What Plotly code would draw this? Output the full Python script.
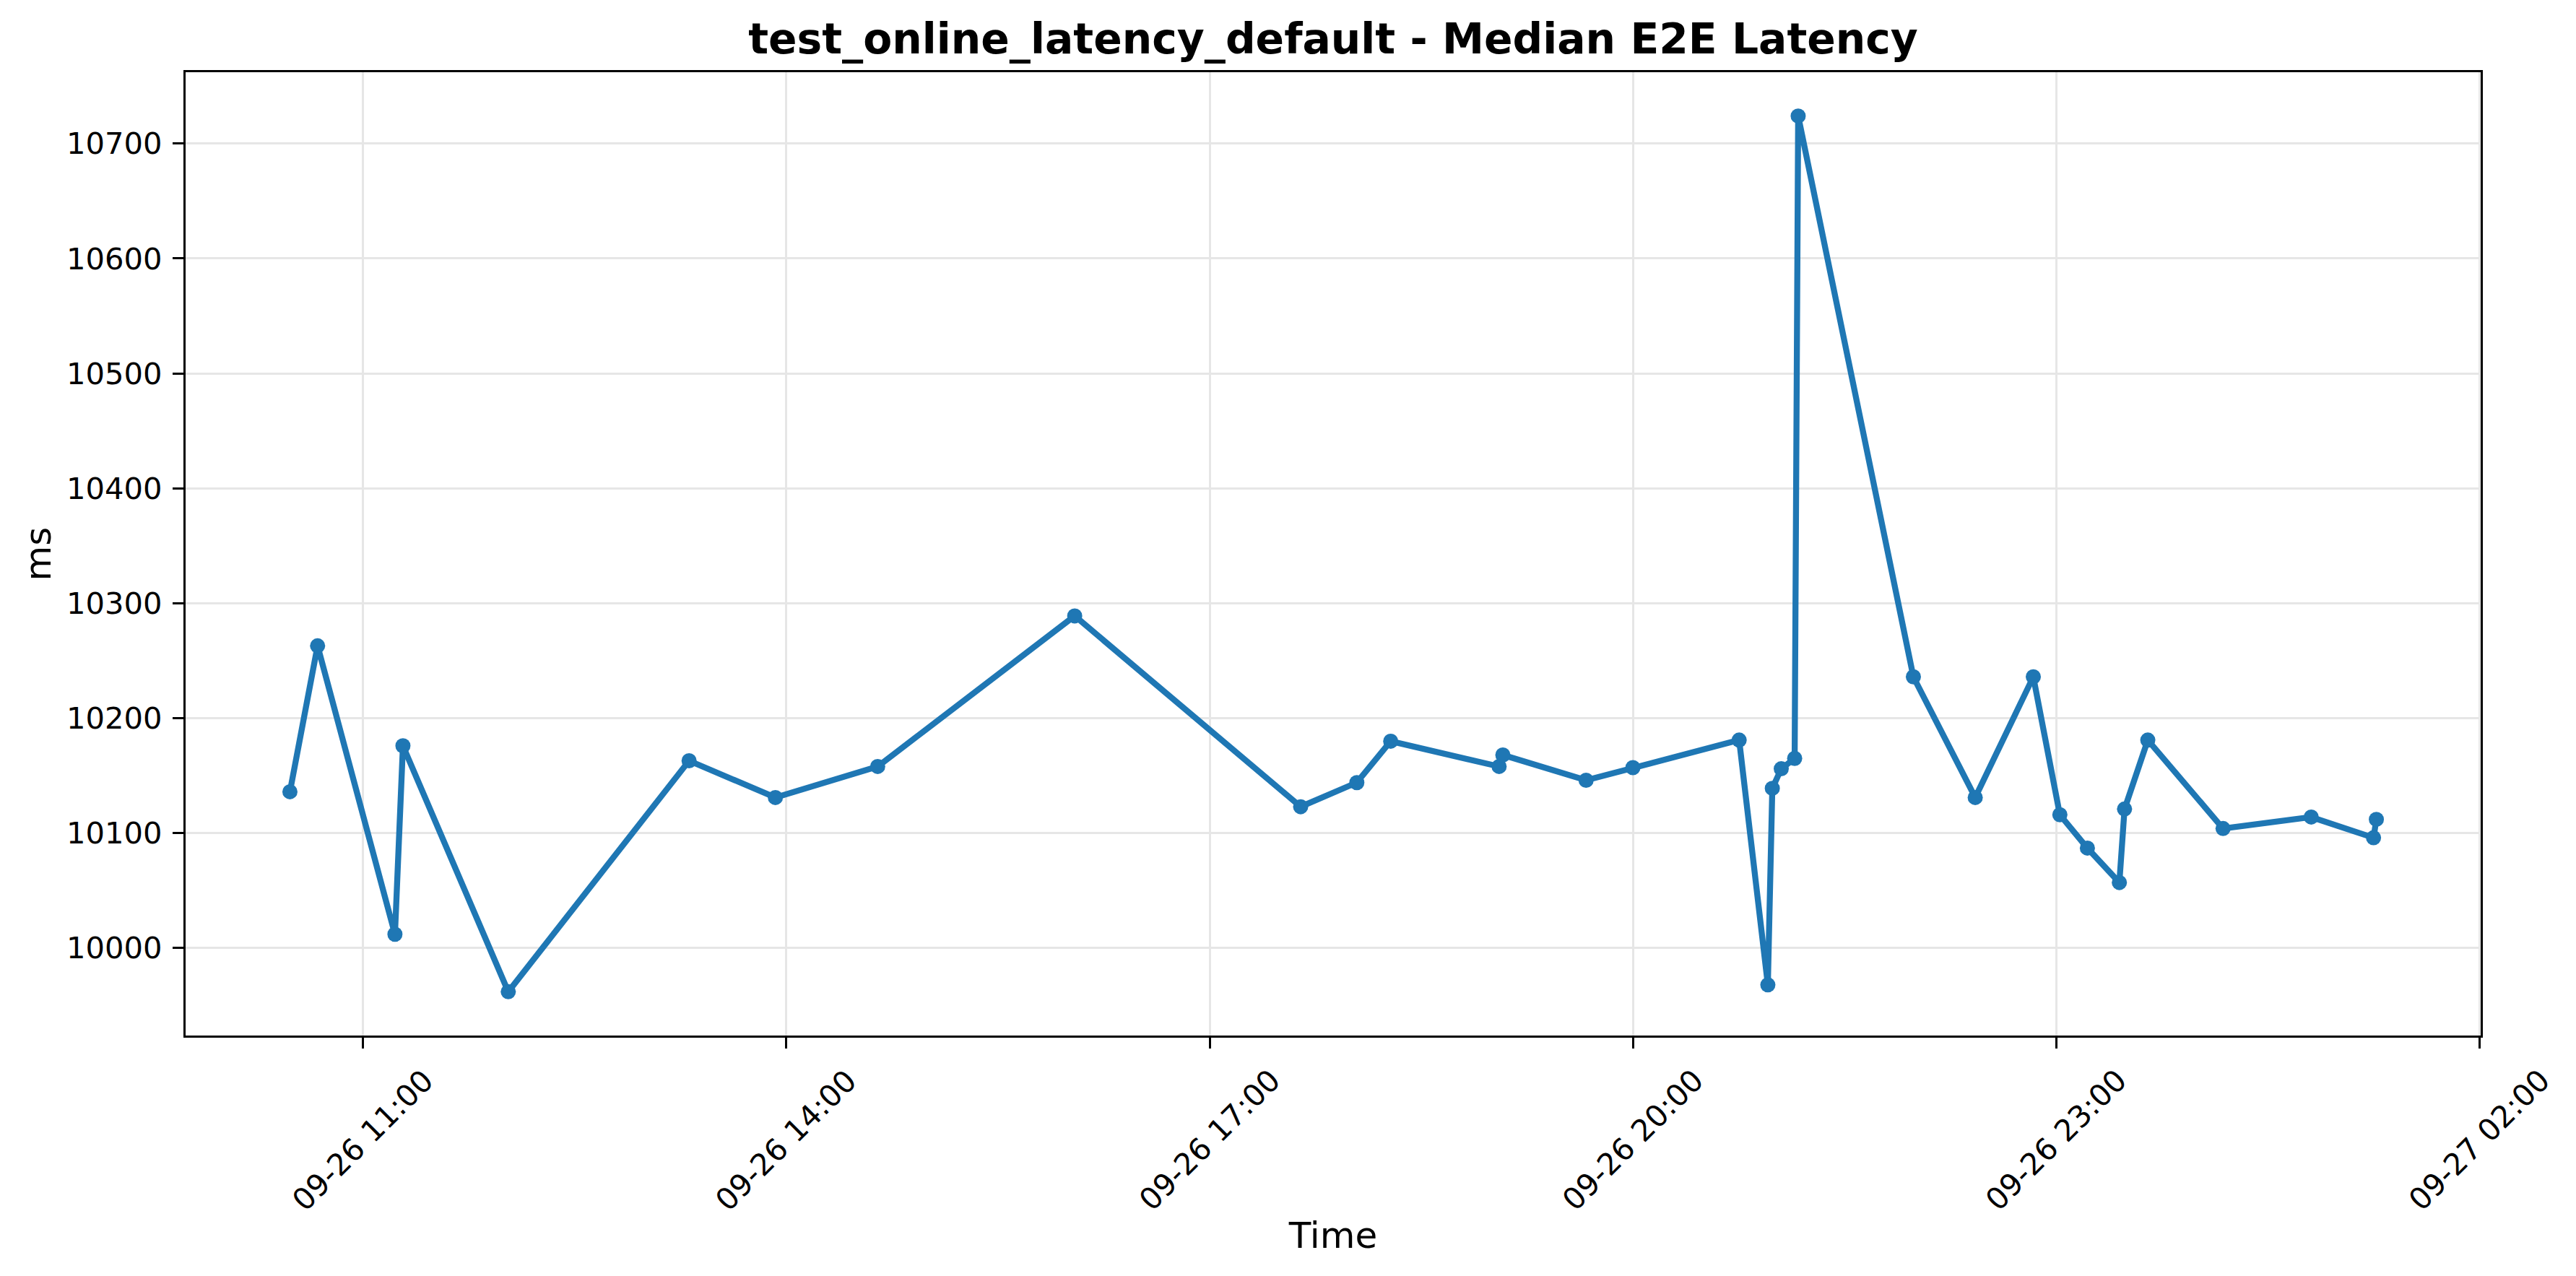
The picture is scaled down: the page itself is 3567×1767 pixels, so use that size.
import plotly.graph_objects as go
import pandas as pd

# ---- data ----
times = [
    "2025-09-26 10:28:50", "2025-09-26 10:40:36", "2025-09-26 11:13:30", "2025-09-26 11:16:54",
    "2025-09-26 12:01:42", "2025-09-26 13:18:36", "2025-09-26 13:55:18", "2025-09-26 14:38:48",
    "2025-09-26 16:02:36", "2025-09-26 17:38:42", "2025-09-26 18:02:36", "2025-09-26 18:17:00",
    "2025-09-26 19:03:06", "2025-09-26 19:04:42", "2025-09-26 19:40:06", "2025-09-26 20:00:00",
    "2025-09-26 20:45:12", "2025-09-26 20:57:24", "2025-09-26 20:59:18", "2025-09-26 21:03:06",
    "2025-09-26 21:08:48", "2025-09-26 21:10:18", "2025-09-26 21:59:18", "2025-09-26 22:25:36",
    "2025-09-26 22:50:18", "2025-09-26 23:01:36", "2025-09-26 23:13:18", "2025-09-26 23:26:54",
    "2025-09-26 23:29:06", "2025-09-26 23:39:00", "2025-09-27 00:11:00", "2025-09-27 00:48:30",
    "2025-09-27 01:15:00", "2025-09-27 01:16:12",
]
latency_ms = [
    10136, 10263, 10012, 10176,
    9962, 10163, 10131, 10158,
    10289, 10123, 10144, 10180,
    10158, 10168, 10146, 10157,
    10181, 9968, 10139, 10156,
    10165, 10724, 10236, 10131,
    10236, 10116, 10087, 10057,
    10121, 10181, 10104, 10114,
    10096, 10112,
]
x_tick_times = [
    "2025-09-26 11:00", "2025-09-26 14:00", "2025-09-26 17:00",
    "2025-09-26 20:00", "2025-09-26 23:00", "2025-09-27 02:00",
]
x_tick_labels = ["09-26 11:00", "09-26 14:00", "09-26 17:00",
                 "09-26 20:00", "09-26 23:00", "09-27 02:00"]
y_tick_values = [10000, 10100, 10200, 10300, 10400, 10500, 10600, 10700]

title_text = "test_online_latency_default - Median E2E Latency"
x_title = "Time"
y_title = "ms"

# ---- styling ----
FONT = "DejaVu Sans"
BLUE = "#1f77b4"
GRID = "#e6e6e6"

t = pd.to_datetime(pd.Series(times))
span = t.max() - t.min()
x_range = [t.min() - 0.05 * span, t.max() + 0.05 * span]
ymin, ymax = min(latency_ms), max(latency_ms)
ypad = 0.05 * (ymax - ymin)
y_range = [ymin - ypad, ymax + ypad]

fig = go.Figure()
fig.add_trace(go.Scatter(
    x=t, y=latency_ms, mode="lines+markers",
    line=dict(color=BLUE, width=8.3),
    marker=dict(color=BLUE, size=21),
    showlegend=False,
))

annotations = []
for tv, tl in zip(x_tick_times, x_tick_labels):
    annotations.append(dict(
        x=tv, y=0, xref="x", yref="paper", text=tl, textangle=-45,
        xanchor="center", yanchor="top", yshift=-36, showarrow=False,
        borderpad=0, font=dict(family=FONT, size=41.7, color="black"),
    ))

fig.update_layout(
    width=3567, height=1767,
    margin=dict(l=257, r=132, t=100, b=333),
    paper_bgcolor="white", plot_bgcolor="white",
    font=dict(family=FONT, color="black"),
    title=dict(
        text=title_text, x=0.5, xref="paper", xanchor="center",
        y=1 - 54 / 1767, yref="container", yanchor="middle",
        font=dict(family=FONT, size=58.3, color="black", weight="bold"),
    ),
    annotations=annotations,
    xaxis=dict(
        type="date", range=x_range,
        tickvals=x_tick_times, showticklabels=False,
        ticks="outside", ticklen=15, tickwidth=3.3, tickcolor="black",
        showline=True, linecolor="black", linewidth=3.3, mirror=True,
        showgrid=True, gridcolor=GRID, gridwidth=3.3, zeroline=False,
        title=dict(text=x_title, standoff=242, font=dict(family=FONT, size=50, color="black")),
    ),
    yaxis=dict(
        range=y_range, tickvals=y_tick_values, tickformat="d",
        ticks="outside", ticklen=15, tickwidth=3.3, tickcolor="black",
        tickfont=dict(family=FONT, size=41.7, color="black"),
        ticklabelstandoff=6,
        showline=True, linecolor="black", linewidth=3.3, mirror=True,
        showgrid=True, gridcolor=GRID, gridwidth=3.3, zeroline=False,
        title=dict(text=y_title, standoff=6, font=dict(family=FONT, size=50, color="black")),
    ),
)

fig.write_html("out.html", config={"displayModeBar": False},
               post_script="document.body.style.margin='0';")
